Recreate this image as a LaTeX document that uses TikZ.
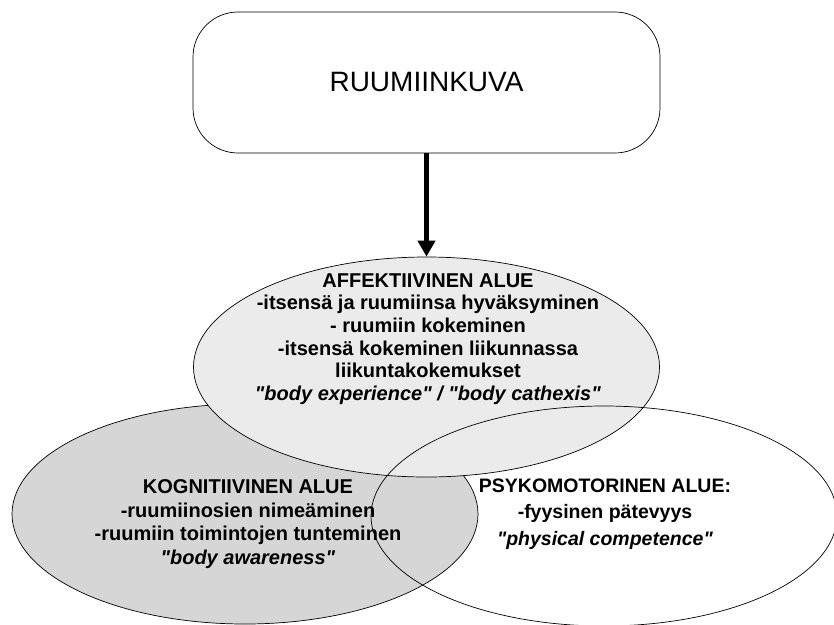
\documentclass[tikz,border=0pt]{standalone}
\usepackage{fontspec}
\setmainfont{Liberation Sans}[Ligatures=TeXOff]
\usetikzlibrary{arrows.meta,shapes.geometric}
\tikzset{
  alue/.style={ellipse, draw, line width=0.7pt, minimum width=466pt, minimum height=220pt, inner sep=0pt},
  alueteksti/.style={align=center, font=\bfseries\fontsize{20}{22.6}\selectfont},
}
\begin{document}
\begin{tikzpicture}[x=1pt,y=-1pt]
\useasboundingbox (0,0) rectangle (834,624);
% the top box
\node[draw, line width=0.7pt, rounded corners=45pt, minimum width=467pt, minimum height=141pt,
      font=\fontsize{28}{32}\selectfont] (kuva) at (426.5,82.5) {RUUMIINKUVA};
% the three areas (affective one laid over the cognitive one)
\node[alue, fill=gray!32] (kogn) at (245,514) {};
\node[alue, fill=gray!16] (affekt) at (426.5,367) {};
\node[alue] (psyko) at (604,516) {};
\draw[line width=5pt, -{Triangle[length=16pt,width=17pt]}] (kuva) -- (affekt);
% texts
\node[alueteksti] (affekt-t) at (428,339) {AFFEKTIIVINEN ALUE\\
      -itsensä ja ruumiinsa hyväksyminen\\
      - ruumiin kokeminen\\
      -itsensä kokeminen liikunnassa\\
      liikuntakokemukset\\
      \textit{"body experience" / "body cathexis"}};
\node[alueteksti, font=\bfseries\fontsize{20}{23.5}\selectfont] (kogn-t) at (248,524) {KOGNITIIVINEN ALUE\\
      -ruumiinosien nimeäminen\\
      -ruumiin toimintojen tunteminen\\
      \textit{"body awareness"}};
\node[alueteksti, font=\bfseries\fontsize{19.5}{26.5}\selectfont] (psyko-t) at (605,514) {PSYKOMOTORINEN ALUE:\\
      -fyysinen pätevyys\\
      \textit{"physical competence"}};
\end{tikzpicture}
\end{document}
